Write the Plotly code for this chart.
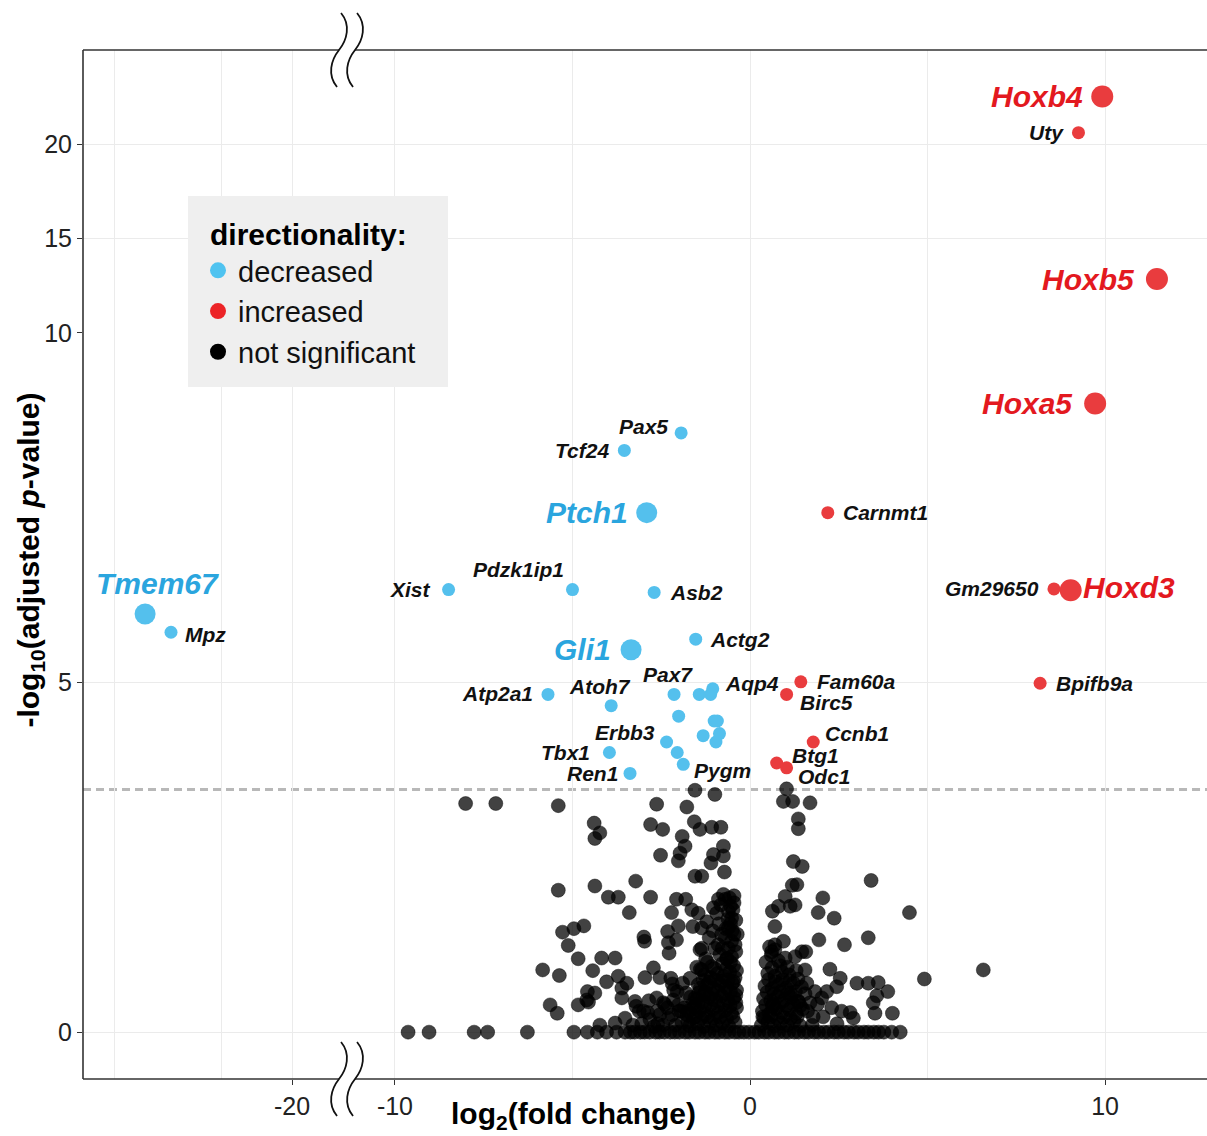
import plotly.graph_objects as go

# ---------------- data ----------------
# significantly decreased genes
dec_genes = ["Tmem67", "Mpz", "Xist", "Pdzk1ip1", "Pax5", "Tcf24", "Ptch1", "Asb2",
             "Actg2", "Gli1", "Atp2a1", "Atoh7", "Pax7", "Aqp4", "Erbb3", "Tbx1",
             "Ren1", "Pygm", "", "", "", "", "", "", "", "", ""]
dec_lfc = [-24.14, -23.41, -8.49, -5.00, -1.94, -3.54, -2.91, -2.70,
           -1.53, -3.35, -5.69, -3.91, -2.14, -1.05, -2.35, -3.96,
           -3.38, -1.88, -1.43, -1.11, -2.01, -1.01, -0.92, -1.32, -0.86, -0.96, -2.05]
dec_padj = [5.98, 5.72, 6.33, 6.33, 8.57, 8.32, 7.43, 6.29,
            5.62, 5.47, 4.83, 4.67, 4.83, 4.91, 4.15, 4.00,
            3.70, 3.83, 4.83, 4.83, 4.52, 4.45, 4.45, 4.24, 4.27, 4.15, 4.00]

# significantly increased genes
inc_genes = ["Hoxb4", "Uty", "Hoxb5", "Hoxa5", "Carnmt1", "Gm29650", "Hoxd3",
             "Fam60a", "Birc5", "Bpifb9a", "Ccnb1", "Btg1", "Odc1"]
inc_lfc = [9.92, 9.25, 11.46, 9.72, 2.19, 8.56, 9.03,
           1.43, 1.03, 8.17, 1.78, 0.75, 1.03]
inc_padj = [22.54, 20.62, 12.86, 8.99, 7.43, 6.34, 6.32,
            5.01, 4.83, 4.99, 4.15, 3.85, 3.78]

# genes emphasised with larger points and coloured labels
highlight_genes = ["Tmem67", "Ptch1", "Gli1", "Hoxb4", "Hoxb5", "Hoxa5", "Hoxd3"]

# -log10 adjusted p-value cut-off
padj_cutoff = 3.47

# genes that are not significant (log2 fold change, -log10 adjusted p)
ns_lfc = [
    -9.63, -9.04, -7.77, -7.39, -6.27, -4.96, -4.58, -4.30, -4.04, -3.76,
    -8.01, -7.16, -5.40, -4.39, -4.37, -4.23, -5.40, -4.37,
    -5.28, -4.96, -4.68, -5.12, -4.84, -5.84, -5.37, -4.43,
    -4.58, -5.63, -5.43, -4.84, -4.55, -4.37, -4.60,
    -2.63, -1.78, -1.55, -0.99, -2.80, -2.46, -1.57, -1.41, -1.08, -0.82,
    -1.91, -1.83, -1.97, -2.02, -2.52, -0.75, -1.03, -1.10, -0.75, -0.72,
    -1.55, -1.36, -3.22, -3.99, -3.71, -2.80, -3.40, -2.07, -1.81, -2.21,
    -1.64, -1.46, -2.02, -2.32, -1.61, -1.36, -2.99, -2.97, -2.30, -2.07,
    -2.28, -1.41, -4.18, -3.80, -2.72, -2.96, -2.54, -2.23, -2.19, -1.50,
    -1.69, -4.04, -3.71, -3.47, -3.61, -3.61, -3.24, -3.21, -2.63, -2.44,
    -2.16, -2.02, -3.52, -3.80, -4.23, -2.82, -2.54, -2.30, -1.74, -1.55, -1.46,
    -0.75, -0.89, -0.70, -1.03, -0.61, -1.22, -0.94, -0.52, -0.61, -0.70,
    -0.52, -1.36, -0.99, -0.61, -0.85, -0.52, -1.36, -1.08,
    -1.48, -1.30, -1.12, -0.95, -0.78, -0.60, -0.42,
    -1.42, -1.25, -1.05, -0.88, -0.70, -0.52, -0.38,
    -1.50, -1.32, -1.15, -0.97, -0.80, -0.62, -0.45,
    -1.40, -1.20, -1.02, -0.85, -0.67, -0.50, -0.38,
    -1.28, -1.10, -0.92, -0.74, -0.57, -0.42,
    -1.20, -0.78, -0.46, -1.58, -1.27, -0.66,
    -2.10, -1.92, -1.70, -1.60, -1.85, -2.05, -1.80, -1.62, -2.45, -2.70,
    -3.05, -3.30, -2.33, -2.88, -3.12, -1.75, -1.95, -2.60,
    -0.45, -0.55, -0.45, -0.65, -0.40, -0.80, -0.90, -1.15, -1.25, -0.48,
    -0.58, -1.05, -0.38,
    -0.42, -0.50, -0.62, -0.40, -0.55, -0.82, -0.68, -0.78, -0.45, -0.88, -0.36,
    -1.55, -1.38, -1.20, -1.02, -0.85, -0.66, -0.48,
    -1.46, -1.28, -1.10, -0.92, -0.74, -0.56, -0.40,
    -1.45, -1.26, -1.08, -0.90, -0.72, -0.55, -0.40,
    -1.32, -1.15, -0.97, -0.80, -0.62, -0.46,
    -1.40, -1.00, -0.68, -0.55,
    -2.20, -2.00, -1.78, -1.68, -2.40, -2.62, -2.85, -3.00, -2.15, -1.90,
    0.32, 0.50, 0.68, 0.86, 1.05, 1.24, 1.42,
    0.35, 0.54, 0.72, 0.90, 1.10, 1.30, 1.48,
    0.38, 0.58, 0.78, 0.96, 1.16, 1.36,
    0.42, 0.62, 0.82, 1.02, 1.22, 1.45,
    0.50, 0.70, 0.90, 1.10, 1.30,
    0.45, 0.80, 0.60, 0.36, 0.66,
    0.40, 0.58, 0.76, 0.95, 1.14, 1.33,
    0.44, 0.63, 0.82, 1.02, 1.22, 1.42,
    0.48, 0.68, 0.87, 1.07, 1.28,
    0.52, 0.72, 0.92, 1.12, 1.35,
    0.62, 0.85, 1.05, 0.70, 0.55,
    1.62, 1.90, 2.30, 2.45, 1.55,
    1.03, 0.94, 1.20, 1.69, 1.36, 1.36, 1.22, 1.47, 1.19, 1.32,
    0.99, 1.13, 0.80, 0.63, 0.70, 0.70, 0.94, 0.61, 1.27, 1.46,
    0.99, 1.27, 2.05, 1.92, 2.37, 3.41, 3.33, 1.94, 2.66, 1.57,
    1.55, 2.25, 2.54, 2.44, 3.01, 3.33, 3.61, 3.88, 3.57, 3.47,
    3.52, 4.01, 1.83, 2.16, 2.02, 1.69, 1.78, 2.06, 2.58, 2.82,
    2.91, 1.36, 4.49, 6.57, 4.91, 1.60, 1.75, 1.15,
    -3.52, -3.37, -3.25, -3.09, -2.97, -2.83, -2.66, -2.55, -2.41, -2.25,
    -2.12, -1.99, -1.83, -1.71, -1.55, -1.43, -1.27, -1.15, -0.99, -0.87,
    -0.71, -0.59, -0.43, -0.31, -0.17, -0.03, 0.13, 0.25, 0.41, 0.53,
    0.69, 0.81, 0.97, 1.09, 1.25, 1.37, 1.53, 1.65, 1.81, 1.93,
    2.09, 2.21, 2.37, 2.49, 2.65, 2.77, 2.93, 3.05, 3.21, 3.33,
    3.49, 3.62, 3.77, 3.99, 4.23,
]
ns_padj = [
    0.00, 0.00, 0.00, 0.00, 0.00, 0.00, 0.00, 0.00, 0.00, 0.00,
    3.27, 3.27, 3.24, 2.99, 2.77, 2.85, 2.03, 2.09,
    1.43, 1.48, 1.52, 1.24, 1.05, 0.89, 0.81, 0.88,
    0.58, 0.39, 0.27, 0.39, 0.43, 0.56, 0.46,
    3.26, 3.22, 3.46, 3.40, 2.97, 2.90, 3.01, 2.90, 2.93, 2.93,
    2.80, 2.66, 2.56, 2.45, 2.53, 2.66, 2.54, 2.42, 2.52, 2.29,
    2.23, 2.23, 2.16, 1.93, 1.93, 1.93, 1.71, 1.90, 1.90, 1.71,
    1.75, 1.70, 1.52, 1.44, 1.51, 1.49, 1.36, 1.30, 1.28, 1.32,
    1.13, 1.18, 1.06, 1.06, 0.92, 0.78, 0.78, 0.77, 0.69, 0.93,
    0.77, 0.72, 0.80, 0.70, 0.63, 0.49, 0.44, 0.37, 0.49, 0.42,
    0.46, 0.39, 0.20, 0.13, 0.10, 0.18, 0.25, 0.20, 0.30, 0.49, 0.68,
    1.97, 1.90, 1.90, 1.78, 1.73, 1.58, 1.70, 1.63, 1.49, 1.35,
    1.30, 1.20, 1.20, 1.20, 1.11, 1.08, 0.89, 0.94,
    0.12, 0.08, 0.15, 0.10, 0.13, 0.09, 0.14,
    0.30, 0.26, 0.33, 0.28, 0.31, 0.27, 0.35,
    0.47, 0.44, 0.50, 0.46, 0.52, 0.45, 0.49,
    0.63, 0.68, 0.62, 0.69, 0.64, 0.70, 0.60,
    0.82, 0.78, 0.84, 0.80, 0.86, 0.78,
    1.00, 0.98, 0.95, 0.36, 0.55, 1.05,
    0.10, 0.14, 0.09, 0.20, 0.35, 0.58, 0.56, 0.40, 0.10, 0.08,
    0.12, 0.10, 0.35, 0.28, 0.30, 0.15, 0.30, 0.12,
    1.85, 1.55, 1.40, 1.05, 1.15, 1.40, 1.25, 1.35, 1.05, 1.75,
    1.92, 1.45, 0.88,
    1.25, 1.45, 1.62, 1.60, 1.80, 1.82, 1.48, 1.20, 1.95, 1.55, 1.40,
    0.22, 0.20, 0.22, 0.20, 0.21, 0.20, 0.22,
    0.39, 0.37, 0.40, 0.38, 0.40, 0.38, 0.42,
    0.56, 0.57, 0.55, 0.58, 0.56, 0.58, 0.53,
    0.74, 0.72, 0.75, 0.73, 0.75, 0.72,
    0.90, 0.91, 0.90, 1.00,
    0.25, 0.30, 0.25, 0.50, 0.40, 0.30, 0.45, 0.30, 0.60, 0.70,
    0.10, 0.14, 0.09, 0.13, 0.10, 0.15, 0.09,
    0.30, 0.26, 0.33, 0.28, 0.32, 0.27, 0.33,
    0.48, 0.45, 0.51, 0.46, 0.50, 0.44,
    0.66, 0.62, 0.68, 0.63, 0.70, 0.65,
    0.84, 0.80, 0.86, 0.82, 0.88,
    1.00, 1.02, 1.10, 0.22, 0.40,
    0.20, 0.22, 0.20, 0.21, 0.20, 0.22,
    0.39, 0.37, 0.40, 0.38, 0.40, 0.38,
    0.57, 0.55, 0.58, 0.56, 0.58,
    0.75, 0.72, 0.75, 0.73, 0.76,
    0.92, 0.95, 0.93, 1.18, 1.22,
    0.30, 0.40, 0.35, 0.12, 0.55,
    3.48, 3.30, 3.30, 3.28, 3.05, 2.91, 2.44, 2.37, 2.10, 2.11,
    1.94, 1.80, 1.80, 1.73, 1.51, 1.25, 1.30, 1.15, 1.08, 1.15,
    1.06, 1.82, 1.92, 1.71, 1.63, 2.17, 1.35, 1.32, 1.25, 1.15,
    0.89, 0.90, 0.77, 0.65, 0.70, 0.70, 0.71, 0.58, 0.52, 0.42,
    0.27, 0.27, 0.58, 0.58, 0.49, 0.42, 0.22, 0.22, 0.30, 0.28,
    0.20, 0.44, 1.71, 0.89, 0.76, 0.70, 0.10, 0.55,
    0.00, 0.00, 0.00, 0.00, 0.00, 0.00, 0.00, 0.00, 0.00, 0.00,
    0.00, 0.00, 0.00, 0.00, 0.00, 0.00, 0.00, 0.00, 0.00, 0.00,
    0.00, 0.00, 0.00, 0.00, 0.00, 0.00, 0.00, 0.00, 0.00, 0.00,
    0.00, 0.00, 0.00, 0.00, 0.00, 0.00, 0.00, 0.00, 0.00, 0.00,
    0.00, 0.00, 0.00, 0.00, 0.00, 0.00, 0.00, 0.00, 0.00, 0.00,
    0.00, 0.00, 0.00, 0.00, 0.00,
]

# ---------------- styling ----------------
FONT = "Liberation Sans, Arial, sans-serif"
DEC_COLOR = "rgb(84,192,237)"
INC_COLOR = "rgb(233,60,62)"
NS_COLOR = "rgba(0,0,0,0.74)"
DEC_LABEL = "#2aa5de"
INC_LABEL = "#e3191f"
GRID = "#ebebeb"
FRAME = "#333333"
LEGEND_BG = "#efefef"

# broken axes: two x segments and two y segments
X_LEFT = [-25.89, -18.45]
X_RIGHT = [-11.35, 12.87]
Y_LOW = [-0.67, 10.0]
Y_HIGH = [10.0, 25.0]
X_SPLIT = 0.2349
Y_SPLIT = 0.725

# label placement: anchor side, x shift, y shift (pixels)
label_place = {
    "Tmem67": ("center", 12, 31), "Mpz": ("left", 12, -2), "Xist": ("right", -16, 0),
    "Pdzk1ip1": ("right", -6, 20), "Pax5": ("right", -11, 6), "Tcf24": ("right", -13, 0),
    "Ptch1": ("right", -17, 0), "Asb2": ("left", 14, 0), "Actg2": ("left", 12, 0),
    "Gli1": ("right", -18, 0), "Atp2a1": ("right", -13, 1), "Atoh7": ("center", -11, 19),
    "Pax7": ("center", -6, 20), "Aqp4": ("left", 10, 5), "Erbb3": ("right", -10, 9),
    "Tbx1": ("right", -17, 0), "Ren1": ("right", -10, 0), "Pygm": ("left", 9, -6),
    "Hoxb4": ("right", -17, 0), "Uty": ("right", -12, 0), "Hoxb5": ("right", -20, 0),
    "Hoxa5": ("right", -20, 0), "Carnmt1": ("left", 13, 0), "Gm29650": ("right", -13, 0),
    "Hoxd3": ("left", 10, 3), "Fam60a": ("left", 14, 0), "Birc5": ("left", 11, -8),
    "Bpifb9a": ("left", 14, 0), "Ccnb1": ("left", 10, 8), "Btg1": ("left", 13, 7),
    "Odc1": ("left", 9, -9),
}

fig = go.Figure()

panels = [("x", "y"), ("x2", "y"), ("x3", "y2"), ("x4", "y2")]
dec_sizes = [21 if g in highlight_genes else 13 for g in dec_genes]
inc_sizes = [22 if g in highlight_genes else 13 for g in inc_genes]

for xa, ya in panels:
    fig.add_trace(go.Scatter(
        x=ns_lfc, y=ns_padj, mode="markers", xaxis=xa, yaxis=ya,
        showlegend=False, hoverinfo="skip",
        marker=dict(size=14, color=NS_COLOR, opacity=1,
                    line=dict(width=0.8, color="rgba(0,0,0,0.55)")),
    ))
    fig.add_trace(go.Scatter(
        x=dec_lfc, y=dec_padj, mode="markers", xaxis=xa, yaxis=ya,
        showlegend=False, text=dec_genes, hoverinfo="text",
        marker=dict(size=dec_sizes, color=DEC_COLOR, opacity=1, line=dict(width=0)),
    ))
    fig.add_trace(go.Scatter(
        x=inc_lfc, y=inc_padj, mode="markers", xaxis=xa, yaxis=ya,
        showlegend=False, text=inc_genes, hoverinfo="text",
        marker=dict(size=inc_sizes, color=INC_COLOR, opacity=1, line=dict(width=0)),
    ))

# legend entries
for name, col in [("decreased", "#4fc3f0"), ("increased", "#ec2427"), ("not significant", "#000000")]:
    fig.add_trace(go.Scatter(x=[None], y=[None], mode="markers", name=name,
                             xaxis="x2", yaxis="y", marker=dict(size=16, color=col, opacity=1)))


def refs(x, y):
    xr = "x" if x < -15 else "x2"
    if y > 10:
        return {"x": "x3", "x2": "x4"}[xr], "y2"
    return xr, "y"


annotations = []
for genes, xs, ys, color in [(dec_genes, dec_lfc, dec_padj, DEC_LABEL),
                             (inc_genes, inc_lfc, inc_padj, INC_LABEL)]:
    for g, x, y in zip(genes, xs, ys):
        if not g:
            continue
        anchor, dx, dy = label_place[g]
        big = g in highlight_genes
        xr, yr = refs(x, y)
        annotations.append(dict(
            x=x, y=y, xref=xr, yref=yr, text=g, showarrow=False,
            xanchor=anchor, yanchor="middle", xshift=dx, yshift=dy,
            font=dict(family=FONT, size=30 if big else 21,
                      color=color if big else "#111111",
                      weight="bold", style="italic"),
        ))

# axis titles
annotations.append(dict(
    x=0.436, y=-0.035, xref="paper", yref="paper", showarrow=False,
    text="<b>log<sub>2</sub>(fold change)</b>", xanchor="center", yanchor="middle",
    font=dict(family=FONT, size=30, color="#000000"),
))
annotations.append(dict(
    x=-0.047, y=0.504, xref="paper", yref="paper", showarrow=False, textangle=-90,
    text="<b>-log<sub>10</sub>(adjusted <i>p</i>-value)</b>", xanchor="center", yanchor="middle",
    font=dict(family=FONT, size=30, color="#000000"),
))

# ---------------- frame, cut-off line and break marks ----------------
W, H = 1207, 1136
ML, MR, MT, MB = 83, 0, 50, 57
PW, PH = W - ML - MR, H - MT - MB


def pxx(v):
    return (v - ML) / PW


def pxy(v):
    return (H - MB - v) / PH


shapes = []
for xr in ["x domain", "x2 domain"]:
    shapes.append(dict(type="line", xref=xr, yref="y", x0=0, x1=1, y0=padj_cutoff, y1=padj_cutoff,
                       layer="below", line=dict(color="#b8b8b8", width=3, dash="8px,5px")))

for (x0, y0, x1, y1) in [(0, 0, 0, 1), (0, 1, 1, 1), (0, 0, 1, 0)]:
    shapes.append(dict(type="line", xref="paper", yref="paper", x0=x0, y0=y0, x1=x1, y1=y1,
                       layer="above", line=dict(color=FRAME, width=1.6)))

# legend panel background
shapes.append(dict(type="rect", xref="paper", yref="paper",
                   x0=pxx(188), x1=pxx(448), y0=pxy(387), y1=pxy(196),
                   layer="above", fillcolor=LEGEND_BG, line=dict(width=0)))


def wave(cx, cy, reverse=False):
    pts = [(2, -37), (12, -25), (8, -10), (0, 0), (-8, 10), (-12, 25), (-2, 37)]
    if reverse:
        pts = pts[::-1]
    return [(pxx(cx + a), pxy(cy + b)) for a, b in pts]


def fmt(p):
    return f"{p[0]:.5f},{p[1]:.5f}"


break_x = ML + X_SPLIT * PW
for cy in [MT, H - MB]:
    a = wave(break_x - 8, cy)
    b = wave(break_x + 8, cy, reverse=True)
    fill = ("M " + fmt(a[0]) + " C " + " ".join(fmt(p) for p in a[1:4]) + " C " +
            " ".join(fmt(p) for p in a[4:7]) + " L " + fmt(b[0]) + " C " +
            " ".join(fmt(p) for p in b[1:4]) + " C " + " ".join(fmt(p) for p in b[4:7]) + " Z")
    shapes.append(dict(type="path", xref="paper", yref="paper", path=fill, layer="above",
                       fillcolor="white", line=dict(width=0)))
    for off in [-8, 8]:
        c = wave(break_x + off, cy)
        d = ("M " + fmt(c[0]) + " C " + " ".join(fmt(p) for p in c[1:4]) + " C " +
             " ".join(fmt(p) for p in c[4:7]))
        shapes.append(dict(type="path", xref="paper", yref="paper", path=d, layer="above",
                           line=dict(color="#111111", width=1.8)))

# ---------------- axes ----------------
tickfont = dict(family=FONT, size=25, color="#222222")
common = dict(showline=False, zeroline=False, showgrid=True, gridcolor=GRID, gridwidth=1.2,
              ticks="outside", ticklen=5, tickwidth=1.3, tickcolor=FRAME, tickfont=tickfont,
              tickmode="array")

x_left = dict(common, domain=[0, X_SPLIT], range=X_LEFT, tickvals=[-20], ticktext=["-20"],
              minor=dict(tickvals=[-25, -22], showgrid=True, gridcolor=GRID, gridwidth=1.2, ticks=""))
x_right = dict(common, domain=[X_SPLIT, 1], range=X_RIGHT, tickvals=[-10, 0, 10],
               ticktext=["-10", "0", "10"],
               minor=dict(tickvals=[-5, 5], showgrid=True, gridcolor=GRID, gridwidth=1.2, ticks=""))

fig.update_layout(
    width=W, height=H,
    margin=dict(l=ML, r=MR, t=MT, b=MB),
    paper_bgcolor="white", plot_bgcolor="white",
    font=dict(family=FONT, color="#000000"),
    xaxis=dict(x_left, anchor="y"),
    xaxis2=dict(x_right, anchor="y"),
    xaxis3=dict(x_left, anchor="y2", showticklabels=False, ticks=""),
    xaxis4=dict(x_right, anchor="y2", showticklabels=False, ticks=""),
    yaxis=dict(common, domain=[0, Y_SPLIT], range=Y_LOW, anchor="x",
               tickvals=[0, 5], ticktext=["0", "5"]),
    yaxis2=dict(common, domain=[Y_SPLIT, 1], range=Y_HIGH, anchor="x3",
                tickvals=[10, 15, 20], ticktext=["10", "15", "20"]),
    legend=dict(
        x=pxx(208), y=pxy(206), xanchor="left", yanchor="top",
        bgcolor="rgba(0,0,0,0)", borderwidth=0, indentation=-10,
        font=dict(family=FONT, size=29, color="#111111"),
        title=dict(text="<b>directionality:</b>", font=dict(family=FONT, size=30, color="#000000")),
        itemsizing="trace",
    ),
    annotations=annotations,
    shapes=shapes,
    showlegend=True,
)

fig.write_html("out.html")
